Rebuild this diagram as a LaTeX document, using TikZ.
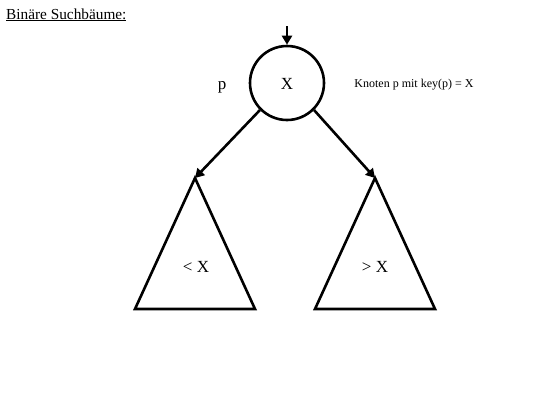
\documentclass[tikz,border=0pt]{standalone}
\usepackage{fontspec}
\setmainfont{Liberation Serif}
\usetikzlibrary{arrows.meta}
\begin{document}
\begin{tikzpicture}[x=1pt,y=-1pt,
  arr/.style={line width=2.6pt,-{Triangle[length=9pt,width=10pt]}},
  big/.style={font=\fontsize{17}{20}\selectfont,inner sep=0pt,anchor=base},
  small/.style={font=\fontsize{12}{14}\selectfont,inner sep=0pt,anchor=base},
  tri/.style={line width=2.6pt,line join=miter}]
\useasboundingbox (0,0) rectangle (555,416);
\node[anchor=base west,inner sep=0pt,font=\fontsize{15.3}{18}\selectfont] (title) at (6,19) {\underline{Binäre Suchbäume:}};
\node[circle,draw,line width=2.6pt,minimum size=74pt,inner sep=0pt] (c) at (287,83) {};
\node[big] (x) at (287,89) {X};
\node[big] (p) at (222,89) {p};
\node[small] (lab) at (414,87) {Knoten p mit key(p) = X};
\coordinate (top) at (287,26);
\draw[arr] (top) -- (c.north);
\coordinate (la) at (195,178);
\coordinate (lb) at (135,309);
\coordinate (lc) at (255,309);
\coordinate (ra) at (375,178);
\coordinate (rb) at (315,309);
\coordinate (rc) at (435,309);
\draw[tri] (la) -- (lb) -- (lc) -- cycle;
\draw[tri] (ra) -- (rb) -- (rc) -- cycle;
\node[big] (lt) at (196,272) {< X};
\node[big] (rt) at (375,272) {> X};
\draw[arr] (c.225) -- (la);
\draw[arr] (c.-45) -- (ra);
\end{tikzpicture}
\end{document}
